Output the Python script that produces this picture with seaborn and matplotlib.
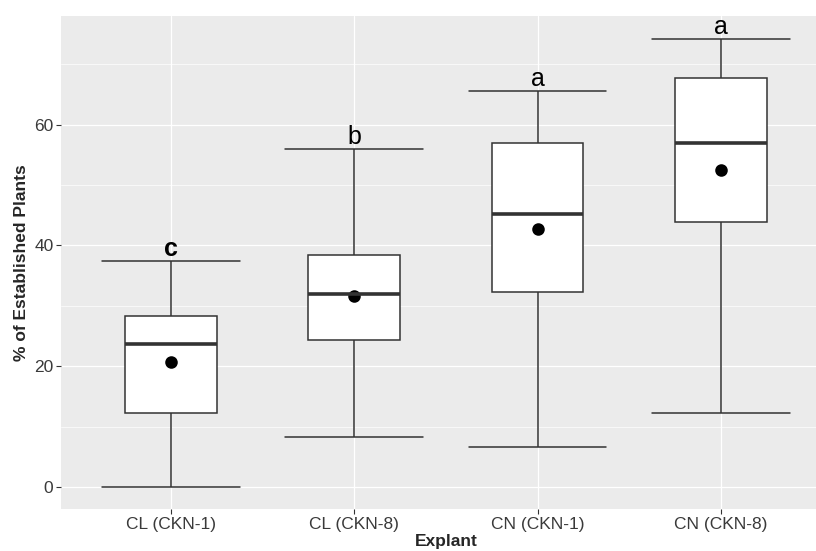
import numpy as np
import pandas as pd
import matplotlib
matplotlib.use("Agg")
import matplotlib.pyplot as plt
import seaborn as sns
from matplotlib.ticker import MultipleLocator

# Values (% of established plants)
explants = ["CL (CKN-1)", "CL (CKN-8)", "CN (CKN-1)", "CN (CKN-8)"]
lower = [0.0, 8.3, 6.6, 12.3]
q1 = [12.2, 24.3, 32.2, 43.9]
median = [23.6, 32.0, 45.2, 57.0]
q3 = [28.3, 38.4, 57.0, 67.7]
upper = [37.4, 56.0, 65.5, 74.2]
means = [20.7, 31.6, 42.7, 52.4]
letters = ["c", "b", "a", "a"]

# five-number summary per explant; with five points the quartiles land on q1 / q3
long = pd.DataFrame({
    "Explant": np.repeat(explants, 5),
    "pct": np.column_stack([lower, q1, median, q3, upper]).ravel(),
})

sns.set_style("white")
plt.rcParams["font.family"] = ["Liberation Sans", "DejaVu Sans"]

fig = plt.figure(figsize=(8.16, 5.51), dpi=100)
ax = fig.add_axes([60.7 / 816, 41.7 / 551, 770.3 / 816, 493.5 / 551])
ax.set_facecolor("#EBEBEB")

line_col = "#333333"
sns.boxplot(
    data=long, x="Explant", y="pct", order=explants, ax=ax,
    whis=(0, 100), width=0.5, color="white", linecolor=line_col,
    linewidth=1.1, showfliers=False, capwidths=0.75,
    medianprops=dict(linewidth=2.6, color=line_col),
)
sns.pointplot(
    x=explants, y=means, order=explants, ax=ax, color="black",
    linestyle="none", marker="o", markersize=7, errorbar=None,
)

for i, lab in enumerate(letters):
    ax.text(i, upper[i] + 0.8, lab, ha="center", va="baseline", fontsize=18,
            fontweight="bold" if lab == "c" else "normal", color="black")

ax.set_xlim(-0.6, 3.6)
ax.set_ylim(-3.7, 78.0)
ax.yaxis.set_major_locator(MultipleLocator(20))
ax.yaxis.set_minor_locator(MultipleLocator(10))
ax.grid(which="major", color="white", linewidth=0.9)
ax.grid(which="minor", axis="y", color="white", linewidth=0.5)
ax.set_axisbelow(True)
for s in ax.spines.values():
    s.set_visible(False)

ax.tick_params(axis="both", which="major", bottom=True, left=True,
               length=3.4, width=0.8, color=line_col,
               labelsize=12.5, labelcolor="#3a3a3a", pad=1.8)
ax.tick_params(axis="y", which="minor", left=False, length=0)

ax.set_xlabel("Explant", fontsize=12.5, fontweight="bold", labelpad=2)
ax.set_ylabel("% of Established Plants", fontsize=12.5, fontweight="bold", labelpad=4)

fig.savefig("out.png", dpi=100, facecolor="white")
